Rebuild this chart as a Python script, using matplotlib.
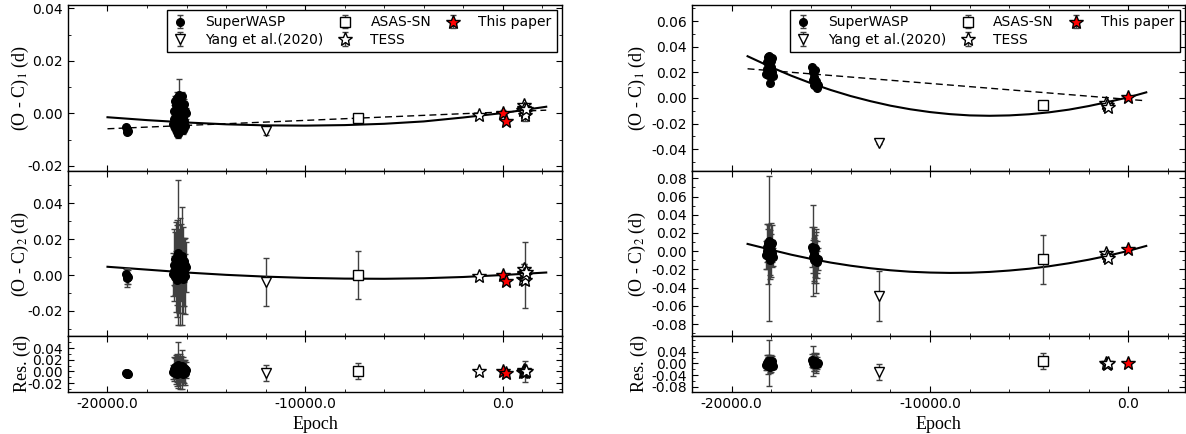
import matplotlib

matplotlib.use("Agg")
import matplotlib.pyplot as plt  # noqa: E402
from matplotlib.ticker import AutoMinorLocator, FormatStrFormatter, MultipleLocator  # noqa: E402

# ---------------- left star ----------------
L_sw1_epoch = [-19050, -19000, -18950, -19000]
L_sw1_oc1 = [-0.0052, -0.0060, -0.0066, -0.0072]
L_sw1_err1 = [0.0008, 0.0008, 0.0008, 0.0008]
L_sw1_oc2 = [0.0003, -0.0005, -0.0012, -0.0017]
L_sw1_err2 = [0.0030, 0.0045, 0.0040, 0.0050]
L_sw1_res = [-0.0025, -0.0030, -0.0035, -0.0040]
L_sw1_errr = [0.0020, 0.0020, 0.0020, 0.0020]

L_sw2_epoch = [-16700, -16650, -16620, -16600, -16580, -16550, -16530, -16500, -16480, -16460,
               -16440, -16420, -16400, -16380, -16360, -16340, -16320, -16300, -16280, -16260,
               -16240, -16220, -16200, -16180, -16160, -16140, -16120, -16100, -16080, -16050]
L_sw2_oc1 = [-0.0040, 0.0010, -0.0020, 0.0045, -0.0055, 0.0000, 0.0030, -0.0070, 0.0060, -0.0010,
             0.0020, -0.0080, 0.0050, -0.0035, 0.0070, -0.0025, 0.0015, -0.0060, 0.0040, -0.0045,
             0.0005, 0.0065, -0.0015, 0.0025, -0.0065, 0.0035, -0.0030, 0.0010, -0.0050, 0.0000]
L_sw2_err1 = [0.0015, 0.0020, 0.0015, 0.0020, 0.0015, 0.0020, 0.0015, 0.0015, 0.0020, 0.0015,
              0.0020, 0.0015, 0.0020, 0.0015, 0.0062, 0.0015, 0.0020, 0.0015, 0.0020, 0.0015,
              0.0020, 0.0015, 0.0020, 0.0015, 0.0015, 0.0020, 0.0015, 0.0020, 0.0015, 0.0020]
L_sw2_oc2 = [0.0005, 0.0055, 0.0025, 0.0090, -0.0010, 0.0045, 0.0075, -0.0025, 0.0100, 0.0035,
             0.0065, 0.0125, 0.0095, 0.0010, 0.0110, 0.0020, 0.0060, -0.0015, 0.0085, 0.0000,
             0.0050, 0.0105, 0.0030, 0.0070, -0.0020, 0.0080, 0.0015, 0.0055, -0.0005, 0.0045]
L_sw2_err2 = [0.012, 0.020, 0.008, 0.015, 0.010, 0.025, 0.006, 0.014, 0.018, 0.027,
              0.009, 0.0405, 0.016, 0.022, 0.007, 0.030, 0.011, 0.013, 0.020, 0.008,
              0.033, 0.010, 0.024, 0.009, 0.015, 0.012, 0.019, 0.006, 0.021, 0.014]
L_sw2_res = [-0.0010, 0.0040, 0.0010, 0.0075, -0.0025, 0.0030, 0.0060, -0.0040, 0.0085, 0.0020,
             0.0050, 0.0110, 0.0080, -0.0005, 0.0095, 0.0005, 0.0045, -0.0030, 0.0070, -0.0015,
             0.0035, 0.0090, 0.0015, 0.0055, -0.0035, 0.0065, 0.0000, 0.0040, -0.0020, 0.0030]
L_sw2_errr = [0.012, 0.020, 0.008, 0.015, 0.010, 0.025, 0.006, 0.014, 0.018, 0.027,
              0.009, 0.0400, 0.016, 0.022, 0.007, 0.030, 0.011, 0.013, 0.020, 0.008,
              0.033, 0.010, 0.024, 0.009, 0.015, 0.012, 0.019, 0.006, 0.021, 0.014]

L_yang_epoch = [-12000]
L_yang_oc1, L_yang_err1 = [-0.0068], [0.0015]
L_yang_oc2, L_yang_err2 = [-0.0040], [0.0133]
L_yang_res, L_yang_errr = [-0.0030], [0.0132]

L_asas_epoch = [-7340]
L_asas_oc1, L_asas_err1 = [-0.0018], [0.0010]
L_asas_oc2, L_asas_err2 = [0.0000], [0.0132]
L_asas_res, L_asas_errr = [0.0015], [0.0138]

L_tess_epoch = [-1200, 1000, 1050, 1080, 1100, 1130, 1150, 1180]
L_tess_oc1 = [-0.0008, 0.0012, 0.0022, 0.0030, 0.0015, 0.0005, -0.0005, 0.0018]
L_tess_err1 = [0.0006, 0.0006, 0.0006, 0.0006, 0.0006, 0.0006, 0.0025, 0.0006]
L_tess_oc2 = [-0.0008, -0.0020, 0.0010, 0.0035, 0.0005, -0.0030, 0.0000, 0.0015]
L_tess_err2 = [0.0010, 0.0020, 0.0050, 0.0025, 0.0020, 0.0015, 0.0182, 0.0020]
L_tess_res = [0.0005, -0.0010, 0.0015, 0.0030, 0.0005, -0.0015, 0.0000, 0.0010]
L_tess_errr = [0.0010, 0.0020, 0.0050, 0.0025, 0.0020, 0.0015, 0.0180, 0.0020]

L_this_epoch = [0, 150]
L_this_oc1, L_this_err1 = [0.0000, -0.0030], [0.0012, 0.0008]
L_this_oc2, L_this_err2 = [0.0000, -0.0035], [0.0012, 0.0008]
L_this_res, L_this_errr = [0.0000, -0.0030], [0.0012, 0.0008]

L_fit1_epoch = [-20000, -18000, -16000, -14000, -12000, -10000, -8000, -6000, -4000, -2000, 0, 2200]
L_fit1_val = [-0.0015, -0.0026, -0.0035, -0.0042, -0.0046, -0.0047, -0.0045, -0.0040, -0.0031,
              -0.0016, 0.0001, 0.0025]
L_lin_epoch = [-20000, 2200]
L_lin_val = [-0.0059, 0.0012]
L_fit2_epoch = [-20000, -18000, -16000, -14000, -12000, -10000, -8000, -6000, -4000, -2000, 0, 2200]
L_fit2_val = [0.0046, 0.0030, 0.0014, 0.0001, -0.0009, -0.0016, -0.0020, -0.0021, -0.0018,
              -0.0011, 0.0000, 0.0014]

# ---------------- right star ----------------
R_sw1_epoch = [-18250, -18220, -18200, -18180, -18150, -18130, -18100, -18080, -18050, -18030,
               -18000, -17980, -17960, -17940]
R_sw1_oc1 = [0.0190, 0.0280, 0.0230, 0.0320, 0.0180, 0.0260, 0.0330, 0.0120, 0.0210, 0.0290,
             0.0240, 0.0200, 0.0310, 0.0170]
R_sw1_err1 = [0.0008] * 14
R_sw1_oc2 = [-0.0040, 0.0050, 0.0000, 0.0095, -0.0055, 0.0030, 0.0110, -0.0100, -0.0015, 0.0065,
             0.0015, -0.0025, 0.0085, -0.0060]
R_sw1_err2 = [0.015, 0.025, 0.012, 0.020, 0.030, 0.0795, 0.018, 0.020, 0.025, 0.012,
              0.030, 0.015, 0.020, 0.010]
R_sw1_res = [-0.0060, 0.0030, -0.0020, 0.0075, -0.0075, 0.0010, 0.0090, -0.0110, -0.0035, 0.0045,
             -0.0005, -0.0045, 0.0065, -0.0080]
R_sw1_errr = [0.015, 0.025, 0.012, 0.020, 0.030, 0.0780, 0.018, 0.020, 0.025, 0.012,
              0.030, 0.015, 0.020, 0.010]

R_sw2_epoch = [-15950, -15920, -15900, -15870, -15850, -15820, -15800, -15770, -15750, -15720,
               -15700, -15660]
R_sw2_oc1 = [0.0240, 0.0140, 0.0200, 0.0100, 0.0160, 0.0120, 0.0220, 0.0090, 0.0130, 0.0080,
             0.0110, 0.0100]
R_sw2_err1 = [0.0008] * 12
R_sw2_oc2 = [0.0050, -0.0060, 0.0010, -0.0100, -0.0030, -0.0080, 0.0030, -0.0110, -0.0070,
             -0.0120, -0.0090, -0.0090]
R_sw2_err2 = [0.022, 0.018, 0.050, 0.025, 0.030, 0.020, 0.015, 0.035, 0.028, 0.012, 0.020, 0.012]
R_sw2_res = [0.0100, 0.0020, 0.0080, -0.0010, 0.0050, 0.0000, 0.0090, 0.0010, 0.0030, -0.0005,
             0.0020, 0.0010]
R_sw2_errr = [0.022, 0.018, 0.050, 0.025, 0.030, 0.020, 0.015, 0.035, 0.028, 0.012, 0.020, 0.012]

R_yang_epoch = [-12580]
R_yang_oc1, R_yang_err1 = [-0.0350], [0.0010]
R_yang_oc2, R_yang_err2 = [-0.0495], [0.0275]
R_yang_res, R_yang_errr = [-0.0290], [0.0270]

R_asas_epoch = [-4300]
R_asas_oc1, R_asas_err1 = [-0.0055], [0.0010]
R_asas_oc2, R_asas_err2 = [-0.0090], [0.0270]
R_asas_res, R_asas_errr = [0.0075], [0.0265]

R_tess_epoch = [-1150, -1100, -1050]
R_tess_oc1, R_tess_err1 = [-0.0040, -0.0055, -0.0068], [0.0008, 0.0008, 0.0008]
R_tess_oc2, R_tess_err2 = [-0.0025, -0.0050, -0.0077], [0.0010, 0.0010, 0.0010]
R_tess_res, R_tess_errr = [0.0005, -0.0005, 0.0000], [0.0010, 0.0010, 0.0010]

R_this_epoch = [0]
R_this_oc1, R_this_err1 = [0.0005], [0.0010]
R_this_oc2, R_this_err2 = [0.0020], [0.0010]
R_this_res, R_this_errr = [0.0000], [0.0010]

R_fit1_epoch = [-19200, -18000, -17000, -16000, -15000, -14000, -13000, -12000, -11000, -10000,
                -9000, -8000, -7000, -6000, -5000, -4000, -3000, -2000, -1000, 0, 900]
R_fit1_val = [0.0326, 0.0240, 0.0174, 0.0115, 0.0062, 0.0015, -0.0025, -0.0060, -0.0088, -0.0110,
              -0.0126, -0.0136, -0.0139, -0.0136, -0.0127, -0.0112, -0.0091, -0.0063, -0.0030,
              0.0005, 0.0044]
R_lin_epoch = [-19200, 900]
R_lin_val = [0.0228, -0.0022]
R_fit2_epoch = [-19200, -18000, -17000, -16000, -15000, -14000, -13000, -12000, -11000, -10000,
                -9000, -8000, -7000, -6000, -5000, -4000, -3000, -2000, -1000, 0, 900]
R_fit2_val = [0.0080, 0.0015, -0.0038, -0.0084, -0.0125, -0.0159, -0.0187, -0.0209, -0.0225,
              -0.0234, -0.0238, -0.0236, -0.0227, -0.0212, -0.0192, -0.0165, -0.0132, -0.0093,
              -0.0048, 0.0004, 0.0058]

LABELS = ["SuperWASP", "Yang et al.(2020)", "ASAS-SN", "TESS", "This paper"]
L_RES_TICKS = [-0.02, 0.00, 0.02, 0.04]
R_RES_TICKS = [-0.08, -0.04, 0.00, 0.04]

plt.rcParams.update(
    {
        "font.family": "DejaVu Sans",
        "font.size": 10,
        "mathtext.fontset": "stix",
        "xtick.direction": "in",
        "ytick.direction": "in",
        "xtick.top": True,
        "ytick.right": True,
        "xtick.major.size": 4,
        "ytick.major.size": 4,
        "xtick.minor.size": 2,
        "ytick.minor.size": 2,
        "axes.linewidth": 1.0,
    }
)

SERIF = "Liberation Serif"
STYLES = {
    "SuperWASP": dict(fmt="o", mfc="k", mec="k", ms=5.5),
    "Yang et al.(2020)": dict(fmt="v", mfc="white", mec="k", ms=7.5),
    "ASAS-SN": dict(fmt="s", mfc="white", mec="k", ms=7),
    "TESS": dict(fmt="*", mfc="white", mec="k", ms=10),
    "This paper": dict(fmt="*", mfc="red", mec="k", ms=10),
}


def draw(ax, sets, label=False):
    handles = []
    for name, x, y, e in sets:
        h = ax.errorbar(x, y, yerr=e, ecolor="0.25", elinewidth=1.0, capsize=2.5,
                        capthick=1.0, mew=1.0, label=name if label else None,
                        zorder=3, **STYLES[name])
        handles.append(h)
    return handles


def panel(fig, left, width, data, xlims, ylims, ticks, res_ticks, label_x):
    heights = [(0.606, 0.9885), (0.2258, 0.606), (0.0968, 0.2258)]
    axes = []
    for b, t in heights:
        ax = fig.add_axes([left, b, width, t - b], sharex=axes[0] if axes else None)
        axes.append(ax)

    sets1 = [(n, d[0], d[1], d[2]) for n, d in zip(LABELS, data["oc1"])]
    hs = draw(axes[0], sets1, label=True)
    axes[0].plot(data["fit1"][0], data["fit1"][1], color="k", lw=1.5, zorder=2)
    axes[0].plot(data["lin"][0], data["lin"][1], color="k", lw=1.0, ls=(0, (5, 3)), zorder=2)
    sets2 = [(n, d[0], d[1], d[2]) for n, d in zip(LABELS, data["oc2"])]
    draw(axes[1], sets2)
    axes[1].plot(data["fit2"][0], data["fit2"][1], color="k", lw=1.5, zorder=2)
    sets3 = [(n, d[0], d[1], d[2]) for n, d in zip(LABELS, data["res"])]
    draw(axes[2], sets3)

    ylabels = [r"(O - C)$_1$ (d)", r"(O - C)$_2$ (d)", "Res. (d)"]
    for ax, yl, lim, tk in zip(axes, ylabels, ylims, ticks):
        ax.yaxis.set_major_locator(MultipleLocator(tk))
        ax.yaxis.set_minor_locator(AutoMinorLocator(2))
        ax.yaxis.set_major_formatter(FormatStrFormatter("%.2f"))
        ax.set_ylim(*lim)
        ax.set_ylabel(yl, family=SERIF, fontsize=13)
        ax.yaxis.set_label_coords(label_x, 0.5)
        ax.xaxis.set_major_locator(MultipleLocator(10000))
        ax.xaxis.set_minor_locator(MultipleLocator(2000))
    axes[2].set_yticks(res_ticks)
    axes[2].yaxis.set_minor_locator(AutoMinorLocator(2))
    axes[2].set_ylim(*ylims[2])
    for ax in axes[:2]:
        ax.tick_params(labelbottom=False)
    axes[0].set_xlim(*xlims)
    axes[2].xaxis.set_major_formatter(FormatStrFormatter("%.1f"))
    axes[2].set_xlabel("Epoch", family=SERIF, fontsize=13)
    leg = axes[0].legend(hs, LABELS, loc="upper right", ncol=3, fontsize=10, frameon=True,
                         fancybox=False, edgecolor="k", framealpha=1, handlelength=1.0,
                         handletextpad=1.3, columnspacing=1.1, borderaxespad=0.35,
                         numpoints=1, labelspacing=0.25)
    leg.get_frame().set_linewidth(1.0)
    return axes


left_data = {
    "oc1": [(L_sw1_epoch + L_sw2_epoch, L_sw1_oc1 + L_sw2_oc1, L_sw1_err1 + L_sw2_err1),
            (L_yang_epoch, L_yang_oc1, L_yang_err1),
            (L_asas_epoch, L_asas_oc1, L_asas_err1),
            (L_tess_epoch, L_tess_oc1, L_tess_err1),
            (L_this_epoch, L_this_oc1, L_this_err1)],
    "oc2": [(L_sw1_epoch + L_sw2_epoch, L_sw1_oc2 + L_sw2_oc2, L_sw1_err2 + L_sw2_err2),
            (L_yang_epoch, L_yang_oc2, L_yang_err2),
            (L_asas_epoch, L_asas_oc2, L_asas_err2),
            (L_tess_epoch, L_tess_oc2, L_tess_err2),
            (L_this_epoch, L_this_oc2, L_this_err2)],
    "res": [(L_sw1_epoch + L_sw2_epoch, L_sw1_res + L_sw2_res, L_sw1_errr + L_sw2_errr),
            (L_yang_epoch, L_yang_res, L_yang_errr),
            (L_asas_epoch, L_asas_res, L_asas_errr),
            (L_tess_epoch, L_tess_res, L_tess_errr),
            (L_this_epoch, L_this_res, L_this_errr)],
    "fit1": (L_fit1_epoch, L_fit1_val),
    "lin": (L_lin_epoch, L_lin_val),
    "fit2": (L_fit2_epoch, L_fit2_val),
}
right_data = {
    "oc1": [(R_sw1_epoch + R_sw2_epoch, R_sw1_oc1 + R_sw2_oc1, R_sw1_err1 + R_sw2_err1),
            (R_yang_epoch, R_yang_oc1, R_yang_err1),
            (R_asas_epoch, R_asas_oc1, R_asas_err1),
            (R_tess_epoch, R_tess_oc1, R_tess_err1),
            (R_this_epoch, R_this_oc1, R_this_err1)],
    "oc2": [(R_sw1_epoch + R_sw2_epoch, R_sw1_oc2 + R_sw2_oc2, R_sw1_err2 + R_sw2_err2),
            (R_yang_epoch, R_yang_oc2, R_yang_err2),
            (R_asas_epoch, R_asas_oc2, R_asas_err2),
            (R_tess_epoch, R_tess_oc2, R_tess_err2),
            (R_this_epoch, R_this_oc2, R_this_err2)],
    "res": [(R_sw1_epoch + R_sw2_epoch, R_sw1_res + R_sw2_res, R_sw1_errr + R_sw2_errr),
            (R_yang_epoch, R_yang_res, R_yang_errr),
            (R_asas_epoch, R_asas_res, R_asas_errr),
            (R_tess_epoch, R_tess_res, R_tess_errr),
            (R_this_epoch, R_this_res, R_this_errr)],
    "fit1": (R_fit1_epoch, R_fit1_val),
    "lin": (R_lin_epoch, R_lin_val),
    "fit2": (R_fit2_epoch, R_fit2_val),
}

fig = plt.figure(figsize=(11.86, 4.34), dpi=100)
panel(fig, 0.0573, 0.4166, left_data, (-22000, 3000),
      [(-0.022, 0.0413), (-0.034, 0.058), (-0.035, 0.0605)], [0.02, 0.02, 0.02],
      L_RES_TICKS, -0.075)
panel(fig, 0.5835, 0.4156, right_data, (-22000, 2850),
      [(-0.057, 0.0726), (-0.093, 0.088), (-0.097, 0.093)], [0.02, 0.02, 0.04],
      R_RES_TICKS, -0.09)
fig.savefig("out.png", dpi=100)
